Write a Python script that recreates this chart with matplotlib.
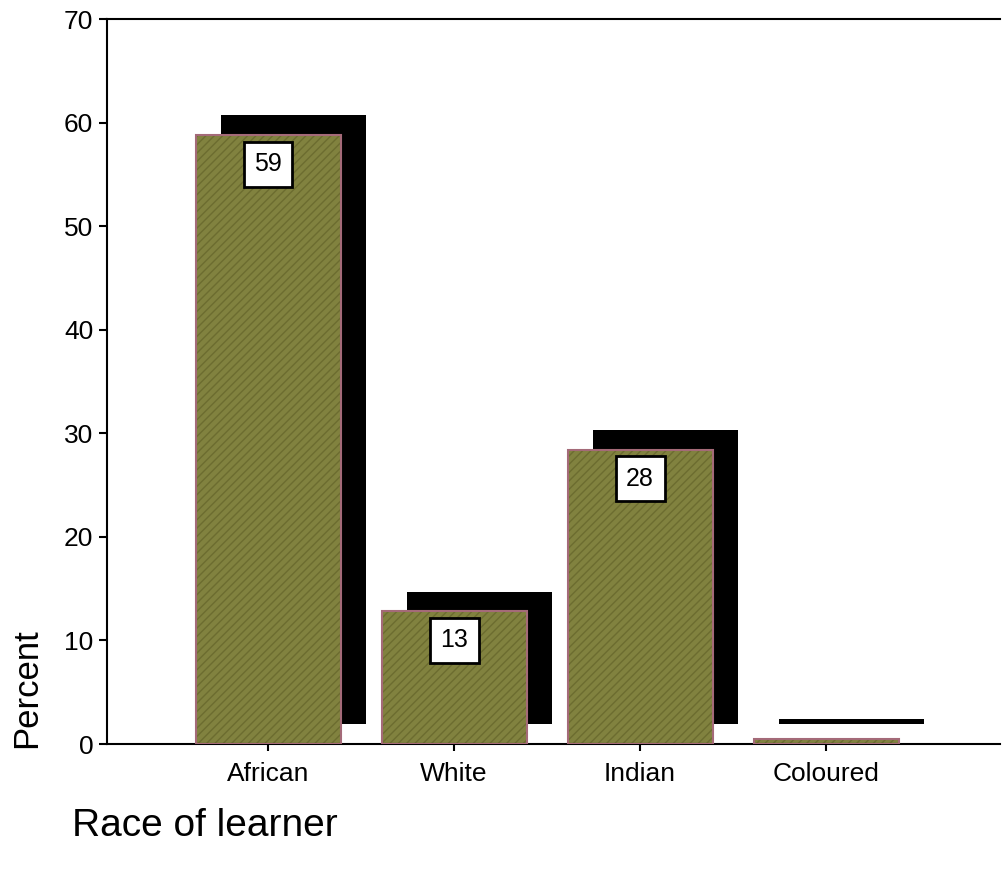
import matplotlib.pyplot as plt
import numpy as np

plt.rcParams['font.family'] = ['Liberation Sans', 'DejaVu Sans']

# Datos
categorias = ['African', 'White', 'Indian', 'Coloured']
porcentajes = [58.8, 12.8, 28.4, 0.5]
etiquetas = ['59', '13', '28', '']
yticks = [0, 10, 20, 30, 40, 50, 60, 70]

fig = plt.figure(figsize=(10.03, 8.69), dpi=100)
ax = fig.add_axes([0.1067, 0.1438, 0.8903, 0.8343])

x = np.arange(len(categorias))
ancho = 0.78

# sombra negra desplazada
ax.bar(x + 0.135, porcentajes, width=ancho, bottom=1.9, color='black', zorder=1)
# barras principales (relleno con textura + borde rosado)
ax.bar(x, porcentajes, width=ancho, facecolor='#81823f', edgecolor='#6c6c30',
       linewidth=0, hatch='////', zorder=2)
ax.bar(x, porcentajes, width=ancho, facecolor='none', edgecolor='#a46a78',
       linewidth=1.5, zorder=3)

# etiquetas en cajas blancas
for xi, v, t in zip(x, porcentajes, etiquetas):
    if t:
        ax.text(xi, v - 2.8, t, ha='center', va='center', fontsize=18, zorder=4,
                bbox=dict(boxstyle='square,pad=0.42', facecolor='white',
                          edgecolor='black', linewidth=2))

ax.set_xlim(-0.866, 3.935)
ax.set_ylim(0, 70)
ax.set_yticks(yticks)
ax.set_xticks(x)
ax.set_xticklabels(categorias, fontsize=19)
ax.tick_params(axis='y', labelsize=19, length=6, width=1.5, pad=4)
ax.tick_params(axis='x', length=5, width=1.5, pad=8)

ax.spines['right'].set_visible(False)
for s in ['left', 'bottom', 'top']:
    ax.spines[s].set_linewidth(1.5)

fig.text(0.027, 0.208, 'Percent', rotation=90, ha='center', va='center', fontsize=25)
fig.text(0.072, 0.05, 'Race of learner', ha='left', va='center', fontsize=28)

plt.savefig('out.png', dpi=100)
